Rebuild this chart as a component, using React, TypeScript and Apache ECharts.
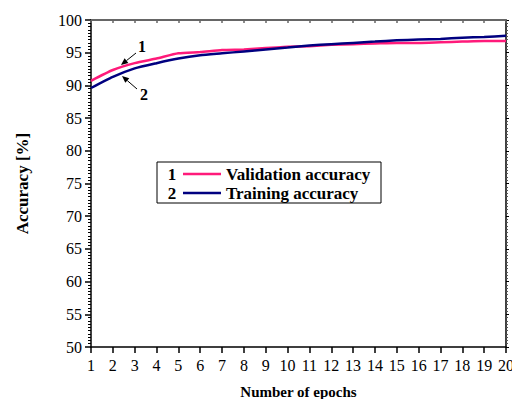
import React, { useEffect, useRef } from "react";
import * as echarts from "echarts";

const epochs = [1, 2, 3, 4, 5, 6, 7, 8, 9, 10, 11, 12, 13, 14, 15, 16, 17, 18, 19, 20];
const validationAcc = [90.7, 92.35, 93.4, 94.1, 94.9, 95.1, 95.4, 95.5, 95.7, 95.9, 96.0, 96.2, 96.3, 96.4, 96.5, 96.5, 96.6, 96.7, 96.8, 96.8];
const trainingAcc = [89.6, 91.3, 92.6, 93.4, 94.1, 94.6, 94.9, 95.2, 95.5, 95.8, 96.1, 96.3, 96.5, 96.7, 96.9, 97.0, 97.1, 97.3, 97.4, 97.6];
const seriesNames = ["Validation accuracy", "Training accuracy"];
const seriesColors = ["#ff1a7a", "#000080"];

const FONT = "Liberation Serif, serif";

function arrow(x1: number, y1: number, x2: number, y2: number) {
  const dx = x2 - x1, dy = y2 - y1;
  const len = Math.sqrt(dx * dx + dy * dy);
  const ux = dx / len, uy = dy / len;
  const hl = 7, hw = 3;
  const bx = x2 - ux * hl, by = y2 - uy * hl;
  return [
    { type: "line", shape: { x1, y1, x2: bx, y2: by }, style: { stroke: "#000", lineWidth: 1 }, z: 100 },
    {
      type: "polygon",
      shape: { points: [[x2, y2], [bx - uy * hw, by + ux * hw], [bx + uy * hw, by - ux * hw]] },
      style: { fill: "#000" },
      z: 100,
    },
  ];
}

export default function App() {
  const ref = useRef<HTMLDivElement>(null);
  useEffect(() => {
    if (!ref.current) return;
    const chart = echarts.init(ref.current, null, { renderer: "svg" });
    const lbl = { fontFamily: FONT, fontSize: 16, color: "#000" };
    const legendX = 157, legendY = 162;
    chart.setOption({
      animation: false,
      backgroundColor: "#fff",
      textStyle: { fontFamily: FONT },
      grid: { left: 91, right: 6, top: 20, bottom: 52, outerBoundsMode: "none", containLabel: false },
      xAxis: [
        {
          type: "value",
          min: 1,
          max: 20,
          interval: 1,
          position: "bottom",
          name: "Number of epochs",
          nameLocation: "middle",
          nameGap: 37,
          nameTextStyle: { fontFamily: FONT, fontSize: 15, fontWeight: "bold", color: "#000" },
          axisLine: { lineStyle: { color: "#000", width: 1.5 } },
          axisTick: { inside: false, length: 6, lineStyle: { color: "#000", width: 1.5 } },
          axisLabel: { ...lbl, margin: 10 },
          splitLine: { show: false },
        },
        {
          type: "value",
          min: 1,
          max: 20,
          interval: 1,
          position: "top",
          axisLine: { lineStyle: { color: "#666", width: 2 } },
          axisTick: { inside: true, length: 3, lineStyle: { color: "#666", width: 1.5 } },
          axisLabel: { show: false },
          splitLine: { show: false },
        },
      ],
      yAxis: [
        {
          type: "value",
          min: 50,
          max: 100,
          interval: 5,
          position: "left",
          name: "Accuracy [%]",
          nameLocation: "middle",
          nameGap: 60,
          nameRotate: 90,
          nameTextStyle: { fontFamily: FONT, fontSize: 17, fontWeight: "bold", color: "#000" },
          axisLine: { lineStyle: { color: "#000", width: 1.5 } },
          axisTick: { inside: false, length: 6, lineStyle: { color: "#000", width: 1.5 } },
          minorTick: { show: true, splitNumber: 10, length: 3, lineStyle: { color: "#000", width: 1 } },
          axisLabel: { ...lbl, margin: 9 },
          splitLine: { show: false },
          minorSplitLine: { show: false },
        },
        {
          type: "value",
          min: 50,
          max: 100,
          interval: 5,
          position: "right",
          axisLine: { lineStyle: { color: "#000", width: 1.5 } },
          axisTick: { inside: false, length: 3, lineStyle: { color: "#000", width: 1 } },
          minorTick: { show: true, splitNumber: 10, length: 2, lineStyle: { color: "#555", width: 1 } },
          axisLabel: { show: false },
          splitLine: { show: false },
          minorSplitLine: { show: false },
        },
      ],
      series: [
        {
          name: seriesNames[0],
          type: "line",
          data: epochs.map((e, i) => [e, validationAcc[i]]),
          showSymbol: false,
          smooth: 0.2,
          lineStyle: { color: seriesColors[0], width: 2.5 },
          itemStyle: { color: seriesColors[0] },
          z: 2,
        },
        {
          name: seriesNames[1],
          type: "line",
          data: epochs.map((e, i) => [e, trainingAcc[i]]),
          showSymbol: false,
          smooth: 0.2,
          lineStyle: { color: seriesColors[1], width: 2.5 },
          itemStyle: { color: seriesColors[1] },
          z: 3,
        },
      ],
      graphic: [
        ...arrow(136, 53, 121, 65),
        ...arrow(137, 89, 122, 76),
        { type: "text", x: 142, y: 46, style: { text: "1", fontFamily: FONT, fontSize: 16, fontWeight: "bold", fill: "#000", align: "center", verticalAlign: "middle" }, z: 100 },
        { type: "text", x: 144, y: 94, style: { text: "2", fontFamily: FONT, fontSize: 16, fontWeight: "bold", fill: "#000", align: "center", verticalAlign: "middle" }, z: 100 },
        {
          type: "rect",
          shape: { x: legendX, y: legendY, width: 224, height: 41 },
          style: { fill: "#fff", stroke: "#000", lineWidth: 1 },
          z: 100,
        },
        ...[0, 1].flatMap((i) => {
          const cy = legendY + 12 + i * 19;
          return [
            { type: "text", x: 172, y: cy, style: { text: String(i + 1), fontFamily: FONT, fontSize: 17, fontWeight: "bold", fill: "#000", align: "center", verticalAlign: "middle" }, z: 101 },
            { type: "line", shape: { x1: 183, y1: cy, x2: 221, y2: cy }, style: { stroke: seriesColors[i], lineWidth: 2.5 }, z: 101 },
            { type: "text", x: 226, y: cy, style: { text: seriesNames[i], fontFamily: FONT, fontSize: 17, fontWeight: "bold", fill: "#000", align: "left", verticalAlign: "middle" }, z: 101 },
          ];
        }),
      ],
    });
    return () => chart.dispose();
  }, []);
  return <div ref={ref} style={{ position: "fixed", left: 0, top: 0, width: 512, height: 399 }} />;
}
